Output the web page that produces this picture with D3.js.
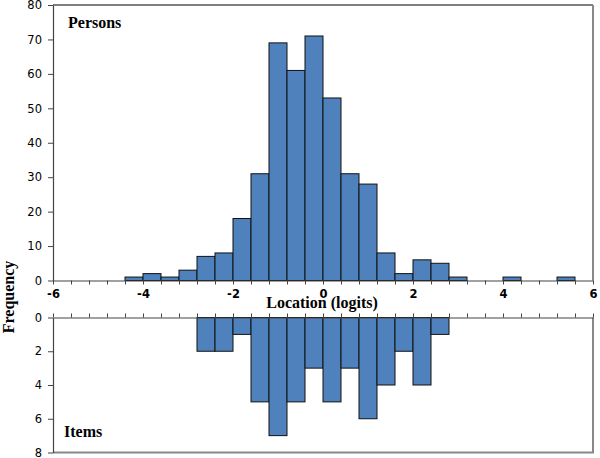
<!DOCTYPE html>
<html lang="en">
<head>
<meta charset="UTF-8">
<title>Person-item distribution</title>
<script src="https://d3js.org/d3.v7.min.js"></script>
<style>
  body { margin: 0; background: #fff; }
  .tick text { font-family: "DejaVu Sans", Verdana, sans-serif; }
  .lbl { font-family: "Liberation Serif", "Times New Roman", serif; font-weight: bold; font-size: 16px; fill: #000; }
</style>
</head>
<body>
<svg id="chart" width="600" height="458"></svg>
<script>
// bin start (logits), each bin is 0.4 wide
const binStarts = [-4.4, -4.0, -3.6, -3.2, -2.8, -2.4, -2.0, -1.6, -1.2, -0.8, -0.4, 0.0,
                   0.4, 0.8, 1.2, 1.6, 2.0, 2.4, 2.8, 3.2, 3.6, 4.0, 4.4, 4.8, 5.2];
const personCounts = [1, 2, 1, 3, 7, 8, 18, 31, 69, 61, 71, 53,
                      31, 28, 8, 2, 6, 5, 1, 0, 0, 1, 0, 0, 1];
const itemCounts = [0, 0, 0, 0, 2, 2, 1, 5, 7, 5, 3, 5,
                    3, 6, 4, 2, 4, 1, 0, 0, 0, 0, 0, 0, 0];
const binWidth = 0.4;
const xTickLabels = [-6, -4, -2, 0, 2, 4, 6];
const personTicks = [0, 10, 20, 30, 40, 50, 60, 70, 80];
const itemTicks = [0, 2, 4, 6, 8];

const svg = d3.select("#chart");
const left = 53, right = 593;
const topY0 = 5, topY1 = 280.5;
const botY0 = 317.5, botY1 = 452.5;
const barFill = "#4f81bd";

let x = d3.scaleLinear().domain([-6, 6]).range([left, right]);
let yTop = d3.scaleLinear().domain([0, 80]).range([topY1, topY0]);
let yBot = d3.scaleLinear().domain([0, 8]).range([botY0, botY1]);
const minorTicks = d3.range(-6, 6.001, binWidth).map(v => +v.toFixed(1));

const persons = binStarts.map((b, i) => ({ b, n: personCounts[i] })).filter(d => d.n > 0);
const items = binStarts.map((b, i) => ({ b, n: itemCounts[i] })).filter(d => d.n > 0);

// frames
svg.append("line").attr("x1", left).attr("x2", right).attr("y1", topY0).attr("y2", topY0)
  .attr("stroke", "#555").attr("stroke-width", 1.5);
svg.append("line").attr("x1", right).attr("x2", right).attr("y1", topY0).attr("y2", topY1)
  .attr("stroke", "#888").attr("stroke-width", 2);
svg.append("line").attr("x1", right).attr("x2", right).attr("y1", botY0).attr("y2", botY1)
  .attr("stroke", "#888").attr("stroke-width", 2);
svg.append("line").attr("x1", left).attr("x2", right + 1).attr("y1", botY1).attr("y2", botY1)
  .attr("stroke", "#888").attr("stroke-width", 2);

// bars: persons up
svg.append("g").selectAll("rect")
  .data(persons)
  .enter().append("rect")
  .attr("x", d => x(d.b))
  .attr("y", d => yTop(d.n))
  .attr("width", d => x(d.b + binWidth) - x(d.b))
  .attr("height", d => topY1 - yTop(d.n))
  .attr("fill", barFill)
  .attr("stroke", "#111")
  .attr("stroke-width", 1);

// bars: items down
svg.append("g").selectAll("rect")
  .data(items)
  .enter().append("rect")
  .attr("x", d => x(d.b))
  .attr("y", botY0)
  .attr("width", d => x(d.b + binWidth) - x(d.b))
  .attr("height", d => yBot(d.n) - botY0)
  .attr("fill", barFill)
  .attr("stroke", "#111")
  .attr("stroke-width", 1);

function styleAxis(g) {
  g.select(".domain").attr("stroke", "#444").attr("stroke-width", 1.2);
  g.selectAll(".tick line").attr("stroke", "#444");
}

// top chart axes
svg.append("g")
  .attr("transform", `translate(${left},0)`)
  .call(d3.axisLeft(yTop).tickValues(personTicks).tickSize(5).tickSizeOuter(0).tickPadding(6))
  .call(styleAxis)
  .call(g => g.selectAll("text").attr("font-size", 11.5).attr("fill", "#000"));

svg.append("g")
  .attr("transform", `translate(0,${topY1})`)
  .call(d3.axisBottom(x).tickValues(minorTicks).tickSize(4).tickSizeOuter(0)
    .tickFormat(d => xTickLabels.includes(d) ? d : ""))
  .call(styleAxis)
  .call(g => g.selectAll("text").attr("font-size", 11.5).attr("font-weight", "bold")
    .attr("fill", "#000").attr("dy", "0.95em"));

// bottom chart axes
svg.append("g")
  .attr("transform", `translate(${left},0)`)
  .call(d3.axisLeft(yBot).tickValues(itemTicks).tickSize(5).tickSizeOuter(0).tickPadding(6))
  .call(styleAxis)
  .call(g => g.selectAll("text").attr("font-size", 11.5).attr("fill", "#000"));

svg.append("g")
  .attr("transform", `translate(0,${botY0})`)
  .call(d3.axisTop(x).tickValues(minorTicks).tickSize(4).tickSizeOuter(0).tickFormat(""))
  .call(styleAxis);

// labels
svg.append("text").attr("class", "lbl").attr("x", 68).attr("y", 28).text("Persons");
svg.append("text").attr("class", "lbl").attr("x", 64).attr("y", 437).text("Items");
svg.append("text").attr("class", "lbl").attr("x", 322).attr("y", 308)
  .attr("text-anchor", "middle").text("Location (logits)");
svg.append("text").attr("class", "lbl")
  .attr("transform", "translate(14,297) rotate(-90)")
  .attr("text-anchor", "middle").text("Frequency");
</script>
</body>
</html>
